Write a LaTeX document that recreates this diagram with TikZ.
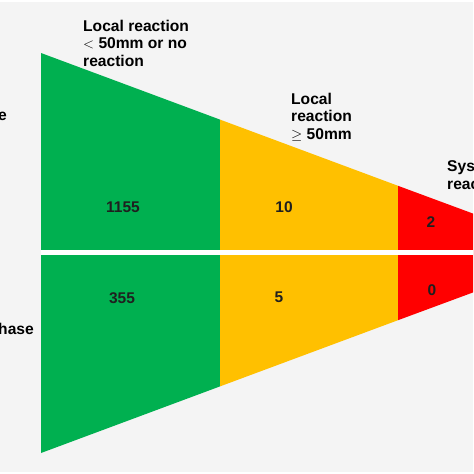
\documentclass[tikz,border=0pt]{standalone}
\usepackage{fontspec}
\setmainfont{Liberation Sans}
\definecolor{bggrey}{HTML}{F4F4F4}
\definecolor{fgreen}{HTML}{00B050}
\definecolor{fyellow}{HTML}{FFC000}
\definecolor{fred}{HTML}{FF0000}
\begin{document}
\begin{tikzpicture}[x=1pt,y=-1pt,
  lbl/.style={font=\bfseries\fontsize{15.6}{17.2}\selectfont, align=left, inner sep=0pt, anchor=base west},
  side/.style={font=\bfseries\fontsize{15.6}{17.2}\selectfont, inner sep=0pt, anchor=base east},
  num/.style={font=\bfseries\fontsize{15.5}{18}\selectfont, text=black!88, inner sep=0pt},
  band/.style={fill=white}
]
\useasboundingbox (0,0) rectangle (474,474);
\fill[white] (0,0) rectangle (474,474);
\fill[bggrey] (0,2) rectangle (473,472);
\clip (0,2) rectangle (473,472);
% funnel corners
\coordinate (gtl) at (41,53);
\coordinate (gbl) at (41,453);
\coordinate (ytl) at (220,119.6);
\coordinate (ybl) at (220,386.4);
\coordinate (rtl) at (398,185.8);
\coordinate (rbl) at (398,320.2);
\coordinate (etl) at (485,218);
\coordinate (ebl) at (485,288);
\fill[fgreen] (gtl) -- (ytl) -- (ybl) -- (gbl) -- cycle;
\fill[fyellow] (ytl) -- (rtl) -- (rbl) -- (ybl) -- cycle;
\fill[fred] (rtl) -- (etl) -- (ebl) -- (rbl) -- cycle;
% separator
\fill[band] (41,250) rectangle (485,255);
% headings
\node[lbl] (h1) at (83,66) {Local reaction\\$<$ 50mm or no\\reaction};
\node[lbl] (h2) at (291,139) {Local\\reaction\\$\geq$ 50mm};
\node[lbl] (h3) at (447,189) {Systemic\\reaction};
% side labels
\node[side] (s1) at (7,120) {Up-dosing phase};
\node[side] (s2) at (34,334) {Maintenance phase};
% numbers
\node[num] (n1) at (123,207) {1155};
\node[num] (n2) at (284,207) {10};
\node[num] (n3) at (431,222) {2};
\node[num] (n4) at (122,298) {355};
\node[num] (n5) at (279,297) {5};
\node[num] (n6) at (432,290) {0};
\end{tikzpicture}
\end{document}
